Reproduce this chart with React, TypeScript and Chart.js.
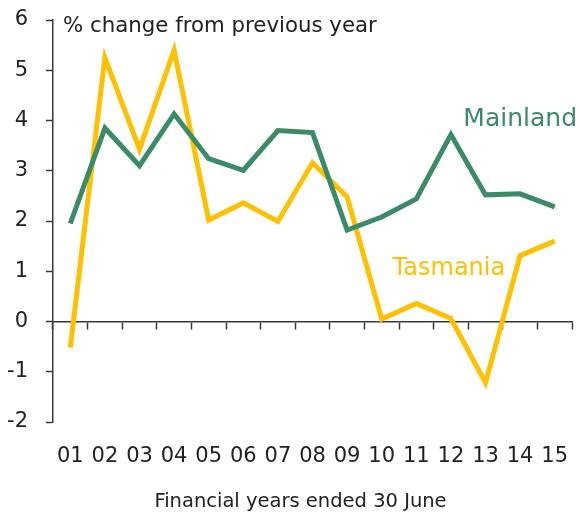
import React, { useEffect, useRef } from "react";
import { Chart, registerables } from "chart.js";

Chart.register(...registerables);

const categories = ["01", "02", "03", "04", "05", "06", "07", "08", "09", "10", "11", "12", "13", "14", "15"];
const mainland = [1.95, 3.85, 3.1, 4.13, 3.24, 3.01, 3.8, 3.76, 1.82, 2.08, 2.44, 3.72, 2.52, 2.54, 2.28];
const tasmania = [-0.52, 5.25, 3.43, 5.4, 2.02, 2.36, 1.99, 3.16, 2.48, 0.05, 0.36, 0.06, -1.22, 1.31, 1.6];
const yTicksMin = -2;
const yTicksMax = 6;
const chartTitle = "% change from previous year";
const xTitle = "Financial years ended 30 June";
const mainlandLabel = "Mainland";
const tasmaniaLabel = "Tasmania";

const GREEN = "#3b8b69";
const YELLOW = "#ffc000";
const FONT = "'DejaVu Sans', sans-serif";
const AXIS = "#3a3a3a";
const TEXT = "#222222";

const textPlugin = {
  id: "seriesText",
  afterDatasetsDraw(chart: any) {
    const { ctx, chartArea, scales } = chart;
    const x = scales.x;
    const y = scales.y;
    ctx.save();
    ctx.textBaseline = "alphabetic";
    ctx.font = `21.3px ${FONT}`;
    ctx.fillStyle = TEXT;
    ctx.textAlign = "left";
    ctx.fillText(chartTitle, chartArea.left + 10, chartArea.top + 12);

    ctx.font = `19.5px ${FONT}`;
    ctx.fillStyle = TEXT;
    ctx.textAlign = "center";
    ctx.fillText(xTitle, x.getPixelForValue(7) - 12, chart.height - 8);

    ctx.font = `25px ${FONT}`;
    ctx.fillStyle = GREEN;
    ctx.textAlign = "right";
    ctx.fillText(mainlandLabel, chartArea.right + 5, y.getPixelForValue(3.9));

    ctx.font = `24px ${FONT}`;
    ctx.fillStyle = YELLOW;
    ctx.textAlign = "center";
    ctx.fillText(tasmaniaLabel, x.getPixelForValue(11) - 2, y.getPixelForValue(0.93));
    ctx.restore();
  },
};

export default function App() {
  const ref = useRef<HTMLCanvasElement | null>(null);
  useEffect(() => {
    if (!ref.current) return;
    const chart = new Chart(ref.current, {
      type: "line",
      data: {
        labels: categories,
        datasets: [
          { label: mainlandLabel, data: mainland, borderColor: GREEN, backgroundColor: GREEN, borderWidth: 5, pointRadius: 0, tension: 0, xAxisID: "x" },
          { label: tasmaniaLabel, data: tasmania, borderColor: YELLOW, backgroundColor: YELLOW, borderWidth: 5, pointRadius: 0, tension: 0, xAxisID: "x" },
        ],
      },
      options: {
        animation: false,
        responsive: false,
        maintainAspectRatio: false,
        layout: { padding: { left: 0, right: 8, top: 20, bottom: 0 } },
        plugins: { legend: { display: false }, tooltip: { enabled: false }, title: { display: false } },
        scales: {
          x: {
            type: "category",
            position: "bottom",
            offset: true,
            grid: { display: false, drawTicks: false, offset: true },
            border: { display: false },
            ticks: { color: TEXT, font: { family: FONT, size: 21 }, padding: 22, maxRotation: 0, autoSkip: false },
            afterFit(scale: any) {
              scale.height = 93;
              scale.paddingLeft = 0;
              scale.paddingRight = 0;
            },
          },
          x2: {
            type: "category",
            position: { y: 0 } as any,
            offset: true,
            grid: { display: true, drawOnChartArea: false, drawTicks: true, tickLength: 7, offset: true, tickColor: AXIS, tickWidth: 1.5 },
            border: { display: true, color: AXIS, width: 1.5 },
            ticks: { display: false },
          },
          y: {
            type: "linear",
            position: "left",
            min: yTicksMin,
            max: yTicksMax,
            ticks: { stepSize: 1, color: TEXT, font: { family: FONT, size: 21 }, padding: 18 },
            grid: { display: true, drawOnChartArea: false, drawTicks: true, tickLength: 7, tickColor: AXIS, tickWidth: 1.5 },
            border: { display: true, color: AXIS, width: 1.5 },
            afterFit(scale: any) {
              scale.width = 53;
              scale.paddingTop = 0;
              scale.paddingBottom = 0;
            },
          },
        },
      } as any,
      plugins: [textPlugin],
    });
    return () => chart.destroy();
  }, []);
  return (
    <div style={{ position: "fixed", left: 0, top: 0, width: 580, height: 515, background: "#fff" }}>
      <canvas ref={ref} width={580} height={515} style={{ width: 580, height: 515, display: "block" }} />
    </div>
  );
}
